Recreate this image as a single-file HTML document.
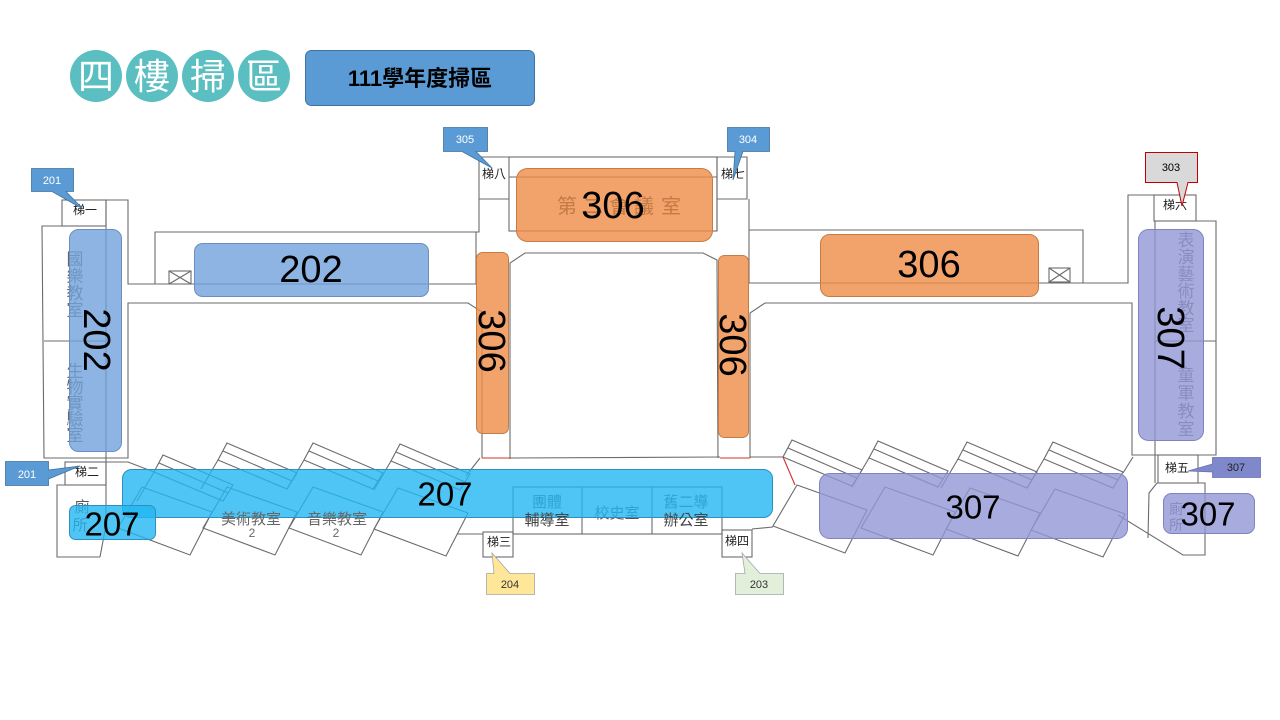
<!DOCTYPE html>
<html><head><meta charset="utf-8"><style>
html,body{margin:0;padding:0;background:#fff;}
svg{display:block;}
</style></head><body>
<svg width="1280" height="720" viewBox="0 0 1280 720" xmlns="http://www.w3.org/2000/svg" font-family="'Liberation Sans','Noto Sans CJK TC',sans-serif">
<rect width="1280" height="720" fill="#fff"/>

<!-- Title -->
<g fill="#5bbfc1">
<circle cx="96" cy="76" r="26"/><circle cx="152" cy="76" r="26"/><circle cx="208" cy="76" r="26"/><circle cx="264" cy="76" r="26"/>
</g>
<g fill="#fff" font-size="36" text-anchor="middle" font-family="'Liberation Sans','Noto Sans CJK TC',sans-serif">
<text x="96" y="89">四</text><text x="152" y="89">樓</text><text x="208" y="89">掃</text><text x="264" y="89">區</text>
</g>
<rect x="305.5" y="50.5" width="229" height="55" rx="6" fill="#5b9bd5" stroke="#41719c"/>
<text x="420" y="86" font-size="22" font-weight="bold" text-anchor="middle" fill="#000">111學年度掃區</text>

<!-- Floor plan lines -->
<g stroke="#6b6b6b" stroke-width="1.1" fill="none">
<!-- left block -->
<rect x="62" y="200" width="44" height="26"/>
<polyline points="106,200 106,525 100,557"/>
<polyline points="62,200 128,200 128,284 476,284 476,232 155,232 155,284"/>
<polyline points="106,226 42,226 44,458 128,458 128,303 468,303 482,312 482,458"/>
<line x1="44" y1="341" x2="106" y2="341"/>
<!-- 梯八 and meeting room -->
<polyline points="476,232 479,232 479,157 717,157 747,157 747,199 717,199"/>
<line x1="479" y1="199" x2="509" y2="199"/>
<rect x="509" y="157" width="208" height="74"/>
<line x1="509" y1="177" x2="717" y2="177"/>
<line x1="717" y1="157" x2="717" y2="231"/>
<polyline points="749,199 749,283 1128,283 1128,195 1154,195"/>
<polyline points="749,230 1083,230 1083,283"/>
<rect x="1154" y="195" width="42" height="26"/>
<polyline points="1154,221 1216,221 1216,455 1132,455 1132,303 765,303 750,313 750,458"/>
<line x1="1155" y1="341" x2="1216" y2="341"/>
<line x1="1155" y1="221" x2="1155" y2="483"/>
<!-- courtyard -->
<polyline points="510,459 510,263 525,253 703,253 717,260 718,458"/>
<line x1="510" y1="458" x2="720" y2="457"/>
<line x1="750" y1="457" x2="783" y2="457"/>
<!-- bottom rooms -->
<rect x="513" y="487" width="209" height="47"/>
<line x1="582" y1="487" x2="582" y2="534"/>
<line x1="652" y1="487" x2="652" y2="534"/>
<rect x="483" y="532" width="30" height="25"/>
<rect x="722" y="530" width="30" height="27"/>
<line x1="457" y1="534" x2="483" y2="534"/>
<line x1="752" y1="529" x2="773" y2="527"/>
<!-- left lower -->
<rect x="65" y="462" width="41" height="23"/>
<polyline points="106,485 57,485 57,557 100,557"/>
<polyline points="106,462 128,462 154,472"/>
<line x1="480" y1="458" x2="466" y2="476"/>
<!-- right lower -->
<rect x="1158" y="455" width="40" height="28"/>
<line x1="1133" y1="457" x2="1123" y2="473"/>
<polyline points="1157,483 1205,483 1205,555 1183,555 1118,515"/>
<polyline points="1157,483 1149,493 1148,538"/>
<!-- left zigzag strips -->
<polygon points="163,455 233,485 223,501 154,472"/><line x1="159" y1="463" x2="228" y2="493"/><line x1="154" y1="472" x2="137" y2="501"/>
<polygon points="227,443 297,473 287,489 218,460"/><line x1="223" y1="451" x2="292" y2="481"/><line x1="218" y1="460" x2="201" y2="489"/>
<polygon points="313,443 383,473 373,489 304,460"/><line x1="309" y1="451" x2="378" y2="481"/><line x1="304" y1="460" x2="287" y2="489"/>
<polygon points="400,444 470,474 460,490 391,461"/><line x1="396" y1="452" x2="465" y2="482"/><line x1="391" y1="461" x2="374" y2="490"/>
<polygon points="142,487 212,512 190,555 118,528"/>
<polygon points="227,487 297,512 275,555 203,528"/>
<polygon points="313,487 383,512 361,555 289,528"/>
<polygon points="398,488 468,513 446,556 374,529"/>
<!-- right zigzag strips -->
<polygon points="792,440 862,470 852,486 783,457"/><line x1="788" y1="448" x2="857" y2="478"/>
<polygon points="878,441 948,471 938,487 869,458"/><line x1="874" y1="449" x2="943" y2="479"/><line x1="869" y1="458" x2="852" y2="487"/>
<polygon points="967,442 1037,472 1027,488 958,459"/><line x1="963" y1="450" x2="1032" y2="480"/><line x1="958" y1="459" x2="941" y2="488"/>
<polygon points="1053,442 1123,472 1113,488 1044,459"/><line x1="1049" y1="450" x2="1118" y2="480"/><line x1="1044" y1="459" x2="1027" y2="488"/>
<polygon points="797,485 867,510 845,553 773,526"/>
<polygon points="885,487 955,512 933,555 861,528"/>
<polygon points="970,488 1040,513 1018,556 946,529"/>
<polygon points="1055,489 1125,514 1103,557 1031,530"/>
<!-- cross boxes -->
<rect x="169" y="271" width="22" height="13"/><line x1="169" y1="271" x2="191" y2="284"/><line x1="191" y1="271" x2="169" y2="284"/>
<rect x="1049" y="268" width="21" height="14"/><line x1="1049" y1="268" x2="1070" y2="282"/><line x1="1070" y1="268" x2="1049" y2="282"/>
</g>
<!-- red lines -->
<g stroke="#d03030" stroke-width="1.1">
<line x1="482" y1="458" x2="510" y2="458"/>
<line x1="720" y1="458" x2="750" y2="458"/>
<line x1="783" y1="457" x2="795" y2="485"/>
</g>

<!-- room text under overlays -->
<g fill="#555" font-size="15" text-anchor="middle">
<text x="547" y="507">團體</text>
<text x="617" y="518">校史室</text>
<text x="686" y="507">舊二導</text>
<text x="82" y="512" font-size="15">廁</text>
<text x="80" y="530" font-size="15">所</text>
<text x="1176" y="514" font-size="14">廁</text>
<text x="1176" y="530" font-size="14">所</text>
</g>
<g fill="#666" font-size="17" text-anchor="middle">
<text x="75" y="265">國</text><text x="75" y="282">樂</text><text x="75" y="299">教</text><text x="75" y="316">室</text>
<text x="75" y="377">生</text><text x="75" y="393">物</text><text x="75" y="409">實</text><text x="75" y="425">驗</text><text x="75" y="441">室</text>
<text x="1186" y="246">表</text><text x="1186" y="263">演</text><text x="1186" y="280">藝</text><text x="1186" y="297">術</text><text x="1186" y="314">教</text><text x="1186" y="331">室</text>
<text x="1186" y="381">童</text><text x="1186" y="399">軍</text><text x="1186" y="417">教</text><text x="1186" y="435">室</text>
</g>

<!-- colored overlays -->
<g fill-opacity="0.8" stroke-width="1">
<rect x="69.5" y="229.5" width="52" height="222" rx="9" fill="#70a1db" stroke="#6a8fbd"/>
<rect x="194.5" y="243.5" width="234" height="53" rx="8" fill="#70a1db" stroke="#6a8fbd"/>
<rect x="516.5" y="168.5" width="196" height="73" rx="11" fill="#ef8c46" stroke="#c57c44"/>
<rect x="476.5" y="252.5" width="32" height="181" rx="6" fill="#ef8c46" stroke="#c57c44"/>
<rect x="718.5" y="255.5" width="30" height="182" rx="6" fill="#ef8c46" stroke="#c57c44"/>
<rect x="820.5" y="234.5" width="218" height="62" rx="9" fill="#ef8c46" stroke="#c57c44"/>
<rect x="1138.5" y="229.5" width="65" height="211" rx="10" fill="#9296d4" stroke="#7f83c0"/>
<rect x="122.5" y="469.5" width="650" height="48" rx="9" fill="#22b6f2" stroke="#2e8fbf"/>
<rect x="69.5" y="505.5" width="86" height="34" rx="6" fill="#22b6f2" stroke="#2e8fbf"/>
<rect x="819.5" y="473.5" width="308" height="65" rx="10" fill="#9296d4" stroke="#7f83c0"/>
<rect x="1163.5" y="493.5" width="91" height="40" rx="8" fill="#9296d4" stroke="#7f83c0"/>
</g>

<!-- text over overlays -->
<g fill="#c47a45" font-size="20" text-anchor="middle">
<text x="567" y="213">第</text><text x="593" y="213">二</text><text x="619" y="213">會</text><text x="644" y="213">議</text><text x="671" y="213">室</text>
</g>
<g fill="#444" font-size="15" text-anchor="middle">
<text x="547" y="525">輔導室</text>
<text x="686" y="525">辦公室</text>
<text x="251" y="524" fill="#666">美術教室</text>
<text x="252" y="537" fill="#666" font-size="12">2</text>
<text x="337" y="524" fill="#666">音樂教室</text>
<text x="336" y="537" fill="#666" font-size="12">2</text>
</g>
<g fill="#222" font-size="12" text-anchor="middle">
<text x="85" y="214">梯一</text>
<text x="87" y="476">梯二</text>
<text x="494" y="178">梯八</text>
<text x="733" y="178">梯七</text>
<text x="1175" y="209">梯六</text>
<text x="1177" y="472">梯五</text>
<text x="499" y="546">梯三</text>
<text x="737" y="545">梯四</text>
</g>

<!-- big numbers -->
<g fill="#000" text-anchor="middle" dominant-baseline="central" font-family="'Liberation Sans',sans-serif">
<text x="613" y="206" font-size="38">306</text>
<text x="311" y="270" font-size="38">202</text>
<text x="929" y="265" font-size="38">306</text>
<text transform="translate(96,340) rotate(90)" font-size="38">202</text>
<text transform="translate(491,341) rotate(90)" font-size="38">306</text>
<text transform="translate(732,345) rotate(90)" font-size="38">306</text>
<text transform="translate(1170,338) rotate(90)" font-size="38">307</text>
<text x="445" y="494" font-size="33">207</text>
<text x="112" y="524" font-size="33">207</text>
<text x="973" y="507" font-size="33">307</text>
<text x="1208" y="514" font-size="33">307</text>
</g>

<!-- callouts -->
<g font-size="11" text-anchor="middle">
<g fill="#5b9bd5" stroke="#41719c" stroke-width="0.8">
<path d="M31.5,168.5 H73.5 V191.5 H66 L83,209 L52,191.5 H31.5 Z"/>
<path d="M5.5,461.5 H48.5 V470 L80,466 L48.5,479 V485.5 H5.5 Z"/>
<path d="M443.5,127.5 H487.5 V151.5 H476 L492,168 L462,151.5 H443.5 Z"/>
<path d="M727.5,127.5 H769.5 V151.5 H743 L733,180 L735,151.5 H727.5 Z"/>
</g>
<text x="52" y="184" fill="#fff">201</text>
<text x="27" y="478" fill="#fff">201</text>
<text x="465" y="143" fill="#fff">305</text>
<text x="748" y="143" fill="#fff">304</text>
<path d="M1145.5,152.5 H1197.5 V182.5 H1188 L1182,206 L1177,182.5 H1145.5 Z" fill="#d9d9d9" stroke="#c00000" stroke-width="1"/>
<text x="1171" y="171" fill="#000">303</text>
<path d="M1212.5,457.5 H1260.5 V477.5 H1212.5 V472 L1188,471 L1212.5,464 Z" fill="#8088cc" stroke="#6a70b0" stroke-width="0.8"/>
<text x="1236" y="471" fill="#222">307</text>
<path d="M486.5,573.5 H494 L492,553 L510,573.5 H534.5 V594.5 H486.5 Z" fill="#ffe699" stroke="#a6a6a6" stroke-width="0.8"/>
<text x="510" y="588" fill="#333">204</text>
<path d="M735.5,573.5 H745 L742,553 L760,573.5 H783.5 V594.5 H735.5 Z" fill="#e2efda" stroke="#a6a6a6" stroke-width="0.8"/>
<text x="759" y="588" fill="#333">203</text>
</g>
</svg>
</body></html>
